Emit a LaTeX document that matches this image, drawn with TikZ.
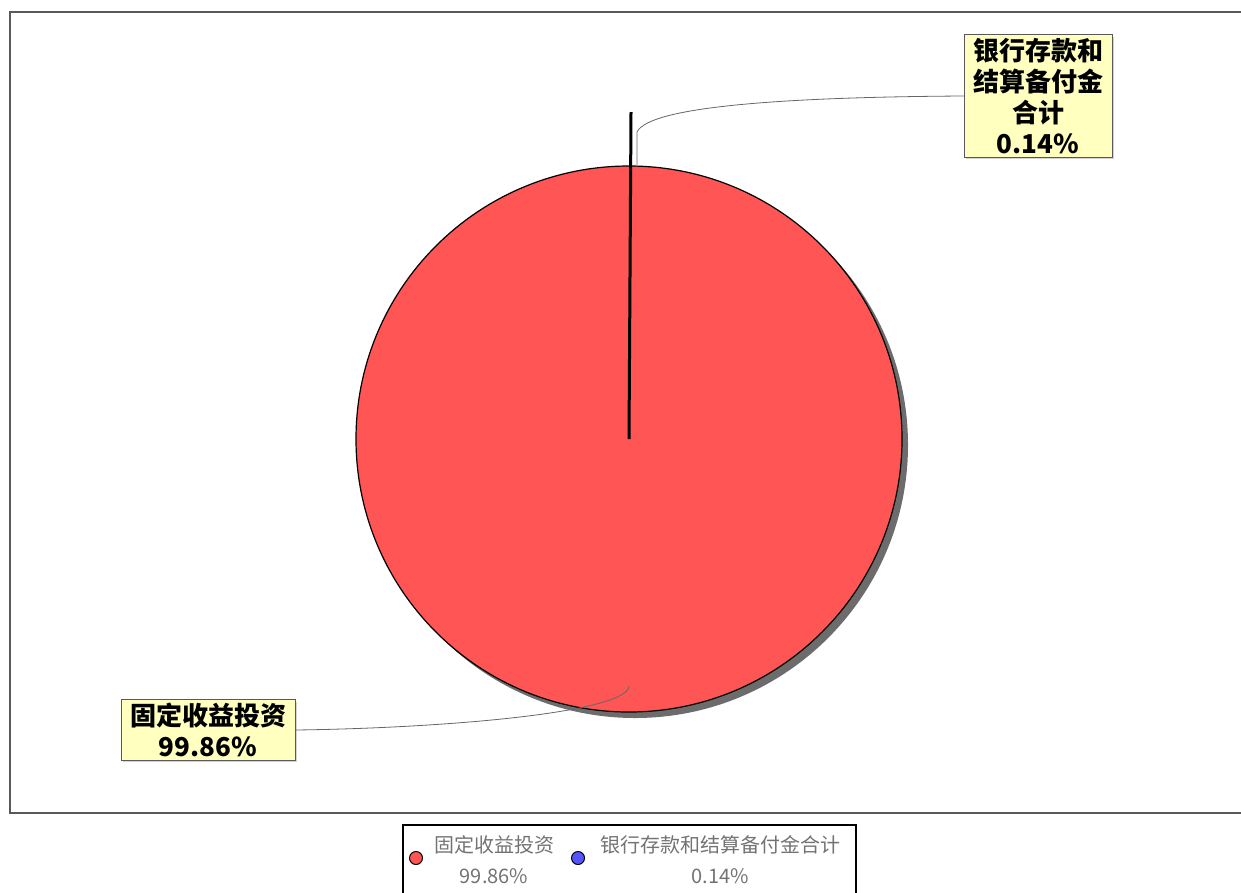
\documentclass[tikz,border=0pt]{standalone}
\usepackage{fontspec}
\setmainfont{Liberation Sans}
\newfontfamily\cjk{Noto Sans CJK SC}
\usetikzlibrary{shadows}
\definecolor{slicered}{HTML}{FF5555}
\definecolor{sliceblue}{HTML}{5555FF}
\definecolor{tipyellow}{HTML}{FFFFC0}
\tikzset{
  tipbox/.style={rectangle,draw=gray!70!black,fill=tipyellow,align=center,
    inner xsep=9pt,inner ysep=3.5pt,font=\cjk\bfseries\fontsize{26}{31}\selectfont,
    drop shadow={shadow xshift=2pt,shadow yshift=-2pt,opacity=0.35}},
  leader/.style={draw=gray!80!black,line width=0.8pt},
  keydot/.style={circle,draw=black,line width=1pt,minimum size=13pt,inner sep=0pt},
  keytext/.style={align=center,text=gray!90!black,font=\cjk\fontsize{20}{31}\selectfont}
}

\begin{document}
\begin{tikzpicture}[x=1pt,y=-1pt]
    \useasboundingbox (0,0) rectangle (1241,892);
    % plot frame
    \draw[gray!70!black,line width=2pt] (1260,12) -- (10,12) -- (10,813) -- (1260,813);
    % pie
    \coordinate (c) at (629,439);
    \fill[gray!85!black] (635,445) circle (273);
    \filldraw[fill=slicered,draw=black,line width=1.2pt] (c) circle (273);
    \coordinate (tip) at (631,112);
    \draw[black,line width=3pt] (c) -- (tip);
    % labels
    \node (lb) at (1038,96) [tipbox] {银行存款和\\结算备付金\\合计\\0.14\%};
    \node (la) at (208,730) [tipbox] {固定收益投资\\99.86\%};
    \coordinate (lbs) at (637,165);
    \coordinate (lbk) at (637,132);
    \coordinate (las) at (629,686);
    \draw[leader] (lbs) -- (lbk) .. controls (650,105) and (800,97) .. (lb.west);
    \draw[leader] (la.east) .. controls (450,728) and (628,712) .. (las);
    % legend
    \draw[black,line width=1.2pt] (403,825) rectangle (856,900);
    \node (ka) at (416,858) [keydot,fill=slicered] {};
    \node (kb) at (578,858) [keydot,fill=sliceblue] {};
    \node (kat) at (494,860) [keytext] {固定收益投资\\99.86\%};
    \node (kbt) at (720,860) [keytext] {银行存款和结算备付金合计\\0.14\%};
  \end{tikzpicture}
\end{document}
